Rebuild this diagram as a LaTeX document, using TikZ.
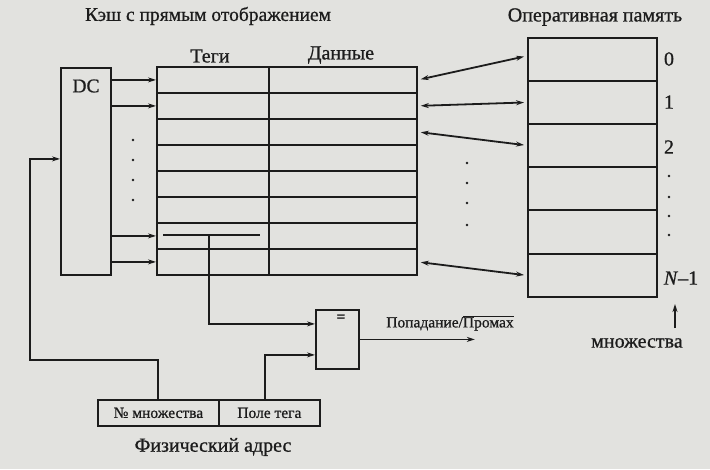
\documentclass[tikz,border=0pt]{standalone}
\usepackage{fontspec}
\setmainfont{Liberation Serif}[FakeBold=0.8]
\usetikzlibrary{arrows.meta,calc}
\definecolor{ink}{RGB}{28,28,28}
\definecolor{paper}{RGB}{226,226,223}
\newcommand\fsz[1]{\fontsize{#1}{#1}\selectfont}
\begin{document}
\begin{tikzpicture}[x=1pt,y=-1pt,
  ln/.style={line width=1.8pt,draw=ink},
  cell/.style={draw=ink,line width=1.8pt,inner sep=0pt,anchor=north west},
  arr/.style={ln,-{Stealth[length=8pt,width=5pt]}},
  arrd/.style={ln,{Stealth[length=8pt,width=5pt]}-{Stealth[length=8pt,width=5pt]},shorten <=3pt,shorten >=3pt},
  lbl/.style={text=ink,inner sep=0pt,font=\fsz{20}},
  sml/.style={text=ink,inner sep=0pt,font=\fsz{15.5}},
  dot/.style={fill=ink}]
\fill[paper] (0,0) rectangle (710,469);
\useasboundingbox (0,0) rectangle (710,469);
% headings
\node[lbl,font=\fsz{19.5}] (title) at (208,16) {Кэш с прямым отображением};
\node[lbl] (hTags) at (210,56) {Теги};
\node[lbl] (hData) at (341,55) {Данные};
\node[lbl] (hMem) at (595,17) {Оперативная память};
% cache table
\foreach \i in {1,...,8}{
  \node[cell,minimum width=112pt,minimum height=26pt] (t\i) at (156,{66+26*(\i-1)}) {};
  \node[cell,minimum width=148pt,minimum height=26pt] (d\i) at (268,{66+26*(\i-1)}) {};
}
% memory
\foreach \i/\t/\h in {0/37/43,1/80/43,2/123/43,3/166/43,4/209/44,5/253/43}{
  \node[cell,minimum width=129pt,minimum height=\h pt] (m\i) at (527,\t) {};
}
\node[lbl] (l0) at (669,59) {0};
\node[lbl] (l1) at (669,102) {1};
\node[lbl] (l2) at (669,147) {2};
\node[lbl] (lN) at (681,278) {\textit{N}–1};
\foreach \y in {176,197,216,235} \fill[dot] (669,\y) circle (1.4pt);
% DC
\node[cell,minimum width=50pt,minimum height=207pt] (dc) at (60,67) {};
\node[lbl,font=\fsz{19.5}] (dclbl) at (86,86) {DC};
\draw[arr] (dc.east |- t1.west) -- (t1.west);
\draw[arr] (dc.east |- t2.west) -- (t2.west);
\draw[arr] (dc.east |- t7.west) -- (t7.west);
\draw[arr] (dc.east |- t8.west) -- (t8.west);
\foreach \y in {140,160,180,200} \fill[dot] (133,\y) circle (1.4pt);
% data <-> memory
\draw[arrd] (d1.east) -- ($(m0.west)+(0,-3.5)$);
\draw[arrd] (d2.east) -- (m1.west);
\draw[arrd] (d3.east) -- (m2.west);
\draw[arrd] (d8.east) -- (m5.west);
\foreach \y in {163,183,203,225} \fill[dot] (467,\y) circle (1.4pt);
% comparator
\node[cell,minimum width=43pt,minimum height=59pt] (cmp) at (315,309) {};
\node[sml,font=\bfseries\fsz{15}] (eq) at (341,318) {=};
\coordinate (tb) at (209,235);
\draw[ln] (163,235) -- (260,235);
\draw[arr] (tb) |- ($(cmp.west)+(0,-15.5)$);
\draw[arr] (cmp.east) -- ++(115,0) coordinate (hitend);
\node[sml] (hit) at (450,323) {Попадание/$\overline{\hbox{Промах}}$};
% address
\node[cell,minimum width=121pt,minimum height=26pt] (setf) at (97,399) {};
\node[sml] at (setf.center) {№ множества};
\node[cell,minimum width=101pt,minimum height=26pt] (tagf) at (218,399) {};
\node[sml] at (tagf.center) {Поле тега};
\node[lbl] (addr) at (213,447) {Физический адрес};
\coordinate (bend) at (30,360);
\draw[arr] ($(setf.north west)+(61,0)$) |- (bend) |- ($(dc.west)+(0,-12.5)$);
\draw[arr] ($(tagf.north west)+(47,0)$) |- ($(cmp.west)+(0,15.5)$);
% set number arrow
\node[lbl] (mn) at (637,343) {множества};
\draw[arr] (675,328) -- (675,304);
\end{tikzpicture}
\end{document}
